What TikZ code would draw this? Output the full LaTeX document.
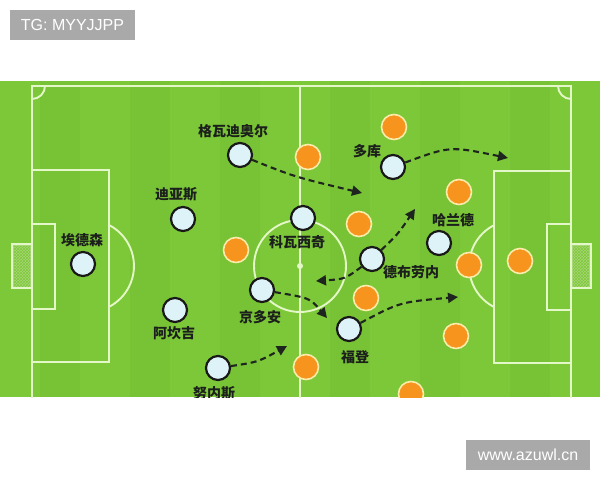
\documentclass[tikz,border=0pt]{standalone}
\usepackage{fontspec}
\setmainfont{Liberation Sans}
\newfontfamily\cjk{Noto Sans CJK SC}
\usetikzlibrary{arrows.meta,patterns}
\definecolor{grass}{RGB}{125,200,56}
\definecolor{grassB}{RGB}{120,195,53}
\definecolor{linec}{RGB}{228,247,200}
\definecolor{playerc}{RGB}{222,243,248}
\definecolor{oppc}{RGB}{247,148,30}
\definecolor{oppline}{RGB}{250,236,170}
\definecolor{namec}{RGB}{28,32,28}
\definecolor{runc}{RGB}{30,36,30}
\definecolor{wmgrey}{RGB}{169,169,169}
\definecolor{netc}{RGB}{168,215,120}
\tikzset{
  fline/.style={draw=linec, line width=1.9pt},
  player/.style={circle, draw=black!90, line width=2.2pt, fill=playerc, minimum size=24pt, inner sep=0pt},
  opp/.style={circle, draw=oppline, line width=1.6pt, fill=oppc, minimum size=25pt, inner sep=0pt},
  pname/.style={font=\cjk\bfseries\fontsize{14}{16}\selectfont, text=namec, inner sep=0pt},
  run/.style={draw=runc, line width=2.1pt, dash pattern=on 6pt off 4pt, -{Triangle[length=10pt,width=10pt]}},
  wm/.style={fill=wmgrey, text=white, font=\fontsize{16}{18}\selectfont, minimum width=125pt, minimum height=30pt, inner sep=0pt},
  goalbox/.style={draw=linec, line width=2.2pt, fill=netc}
}
\begin{document}
\begin{tikzpicture}[x=1pt,y=-1pt]
\useasboundingbox (0,0) rectangle (600,480);
\fill[white] (0,0) rectangle (600,480);
% field
\fill[grass] (0,81) rectangle (600,397);
\foreach \s in {40,130,220,330,420,510} {\fill[grassB] (\s,81) rectangle (\s+40,397);}
\begin{scope}
\clip (0,81) rectangle (600,397);
% lines
\draw[fline] (32,400) -- (32,86) -- (571,86) -- (571,400);
\draw[fline] (300,86) -- (300,400);
\draw[fline] (45,86) arc (0:90:13);
\draw[fline] (558,86) arc (180:90:13);
\draw[fline] (32,170) -- (109,170) -- (109,362) -- (32,362);
\draw[fline] (32,224) -- (55,224) -- (55,309) -- (32,309);
\draw[fline] (571,171) -- (494,171) -- (494,363) -- (571,363);
\draw[fline] (571,224) -- (547,224) -- (547,310) -- (571,310);
\draw[fline] (109,225) arc (-62.8:62.8:46);
\draw[fline] (494,307) arc (117.2:242.8:46);
\draw[fline] (300,266) circle (46);
\fill[linec] (300,266) circle (3);
% goals
\draw[goalbox] (12,244) rectangle (32,288);
\fill[pattern=crosshatch, pattern color=grass] (14,246) rectangle (30,286);
\draw[goalbox] (571,244) rectangle (591,288);
\fill[pattern=crosshatch, pattern color=grass] (573,246) rectangle (589,286);
% opponents
\node[opp] (o1) at (394,127) {};
\node[opp] (o2) at (308,157) {};
\node[opp] (o3) at (459,192) {};
\node[opp] (o4) at (359,224) {};
\node[opp] (o5) at (236,250) {};
\node[opp] (o6) at (469,265) {};
\node[opp] (o7) at (520,261) {};
\node[opp] (o8) at (366,298) {};
\node[opp] (o9) at (456,336) {};
\node[opp] (o10) at (306,367) {};
\node[opp] (o11) at (411,394) {};
% players
\node[player] (gv) at (240,155) {};
\node[player] (dias) at (183,219) {};
\node[player] (eder) at (83,264) {};
\node[player] (akanji) at (175,310) {};
\node[player] (nunes) at (218,368) {};
\node[player] (gundo) at (262,290) {};
\node[player] (kova) at (303,218) {};
\node[player] (kdb) at (372,259) {};
\node[player] (foden) at (349,329) {};
\node[player] (doku) at (393,167) {};
\node[player] (haaland) at (439,243) {};
% names
\node[pname] (lgv) at (233,131) {格瓦迪奥尔};
\node[pname] (ldias) at (176,194) {迪亚斯};
\node[pname] (leder) at (82,240) {埃德森};
\node[pname] (lakanji) at (174,333) {阿坎吉};
\node[pname] (lnunes) at (214,393) {努内斯};
\node[pname] (lgundo) at (260,317) {京多安};
\node[pname] (lkova) at (297,242) {科瓦西奇};
\node[pname] (lkdb) at (411,272) {德布劳内};
\node[pname] (lfoden) at (355,357) {福登};
\node[pname] (ldoku) at (367,151) {多库};
\node[pname] (lhaaland) at (453,220) {哈兰德};
% runs
\coordinate (e1) at (362,193);
\coordinate (e2) at (508,158);
\coordinate (e3) at (415,209);
\coordinate (e4) at (316,281);
\coordinate (e5) at (327,318);
\coordinate (e6) at (458,297);
\coordinate (e7) at (287,346);
\draw[run] (gv) .. controls (295,177) .. (e1);
\draw[run] (doku) .. controls (450,146) .. (e2);
\draw[run] (kdb) .. controls (398,234) .. (e3);
\draw[run] (kdb) .. controls (345,279) .. (e4);
\draw[run] (gundo) .. controls (310,298) .. (e5);
\draw[run] (foden) .. controls (400,302) .. (e6);
\draw[run] (nunes) .. controls (258,362) .. (e7);
\end{scope}
% watermarks
\node[wm] (tg) at (72.5,25) {TG: MYYJJPP};
\node[wm, minimum width=124pt] (site) at (528,455) {www.azuwl.cn};
\end{tikzpicture}
\end{document}
